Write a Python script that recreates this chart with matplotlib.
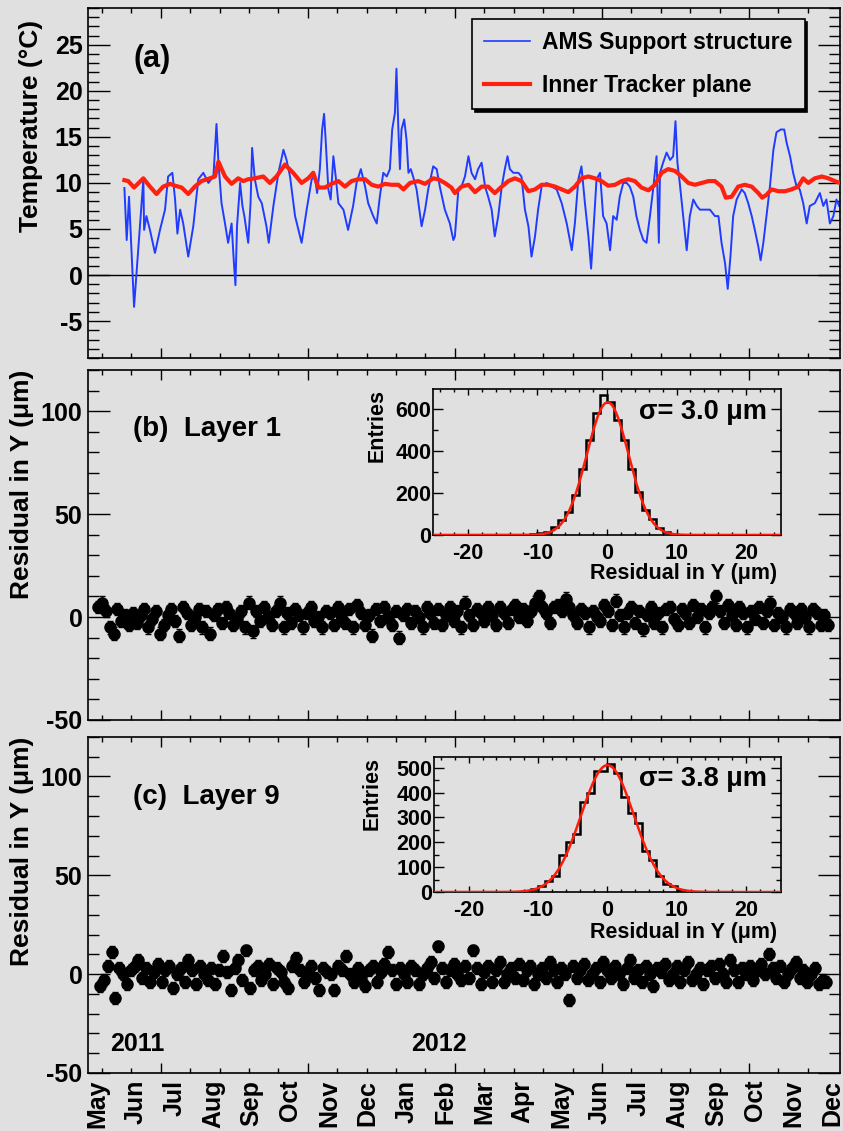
import numpy as np
import matplotlib.pyplot as plt
from matplotlib.ticker import MultipleLocator, FixedLocator, NullFormatter

plt.rcParams['font.family'] = ['Liberation Sans', 'DejaVu Sans']
plt.rcParams['font.weight'] = 'bold'
plt.rcParams['axes.labelweight'] = 'bold'
plt.rcParams['axes.unicode_minus'] = False

BG = '#e0e0e0'

# time axis in months since 1 May 2011
month_labels = ['May', 'Jun', 'Jul', 'Aug', 'Sep', 'Oct', 'Nov', 'Dec', 'Jan', 'Feb',
                'Mar', 'Apr', 'May', 'Jun', 'Jul', 'Aug', 'Sep', 'Oct', 'Nov', 'Dec']

# (a) AMS support structure temperature (deg C)
support_t = [0.71, 0.77, 0.83, 0.96, 1.20, 1.22, 1.28, 1.37, 1.50, 1.63, 1.76, 1.84, 1.95, 2.02,
             2.08, 2.15, 2.23, 2.36, 2.49, 2.62, 2.75, 2.88, 3.01, 3.09, 3.14, 3.22, 3.31, 3.39,
             3.48, 3.54, 3.58, 3.62, 3.70, 3.76, 3.81, 3.91, 3.97, 4.01, 4.08, 4.17, 4.26, 4.38,
             4.44, 4.56, 4.69, 4.82, 4.90, 4.99, 5.12, 5.29, 5.42, 5.55, 5.63, 5.69, 5.76, 5.82,
             5.87, 5.91, 5.98, 6.04, 6.11, 6.17, 6.24, 6.37, 6.49, 6.62, 6.71, 6.82, 6.93, 7.01,
             7.14, 7.23, 7.31, 7.40, 7.49, 7.57, 7.63, 7.70, 7.74, 7.79, 7.83, 7.87, 7.94, 8.00,
             8.05, 8.11, 8.17, 8.26, 8.39, 8.48, 8.56, 8.69, 8.78, 8.86, 8.99, 9.12, 9.21, 9.25,
             9.34, 9.42, 9.51, 9.60, 9.68, 9.77, 9.85, 9.94, 10.03, 10.11, 10.20, 10.28, 10.37,
             10.46, 10.54, 10.61, 10.67, 10.76, 10.89, 10.97, 11.06, 11.15, 11.23, 11.32, 11.40,
             11.49, 11.62, 11.75, 11.88, 12.01, 12.14, 12.27, 12.35, 12.44, 12.52, 12.61, 12.70,
             12.77, 12.83, 12.91, 13.00, 13.08, 13.17, 13.26, 13.34, 13.43, 13.51, 13.60, 13.69,
             13.77, 13.86, 13.94, 14.03, 14.12, 14.20, 14.29, 14.38, 14.46, 14.52, 14.55, 14.63,
             14.72, 14.81, 14.89, 14.95, 15.00, 15.06, 15.15, 15.24, 15.32, 15.41, 15.50, 15.58,
             15.71, 15.84, 15.97, 16.06, 16.14, 16.23, 16.30, 16.37, 16.44, 16.53, 16.66, 16.74,
             16.83, 16.92, 17.00, 17.09, 17.15, 17.22, 17.30, 17.39, 17.48, 17.56, 17.67, 17.76,
             17.82, 17.91, 17.99, 18.08, 18.16, 18.25, 18.34, 18.42, 18.55, 18.68, 18.77, 18.85,
             18.94, 19.03, 19.11, 19.18]
support_temp = [9.45, 3.8, 8.5, -3.45, 10.4, 4.9, 6.4, 4.9, 2.4, 4.9, 7.1, 10.7, 11.1, 8.2,
                4.5, 7.1, 5.6, 2.0, 5.3, 10.4, 11.1, 10.0, 10.7, 16.4, 12.2, 7.8, 5.6, 3.5,
                5.6, 1.3, -1.1, 5.3, 10.0, 7.5, 6.4, 3.5, 7.8, 13.8, 10.4, 8.5, 7.8, 5.3,
                3.5, 7.5, 11.1, 13.6, 12.5, 10.7, 6.4, 3.5, 7.1, 10.4, 10.7, 8.9, 11.5, 15.8,
                17.5, 14.7, 9.3, 8.2, 12.9, 10.7, 7.8, 7.1, 4.9, 7.5, 10.0, 11.5, 9.6, 7.8,
                6.4, 5.6, 8.5, 11.1, 10.7, 11.5, 15.8, 17.6, 22.4, 15.8, 11.5, 15.8, 16.9, 14.7,
                11.1, 11.5, 10.7, 9.3, 5.3, 7.1, 9.3, 11.8, 11.5, 9.6, 7.1, 5.6, 3.8, 4.2,
                9.3, 9.6, 10.7, 12.9, 11.1, 10.4, 11.5, 12.2, 9.6, 8.5, 7.1, 4.2, 6.4,
                9.6, 11.5, 12.9, 11.5, 11.1, 11.1, 10.7, 7.1, 5.3, 2.0, 4.2, 7.1,
                9.6, 10.0, 9.6, 9.3, 7.8, 5.6, 2.7, 5.6, 10.4, 11.8, 7.8, 4.2,
                0.7, 4.9, 10.4, 11.1, 6.4, 5.6, 2.7, 6.4, 6.0, 8.5, 10.0, 10.0,
                9.6, 8.5, 6.4, 4.9, 3.8, 3.5, 6.4, 9.6, 12.9, 3.5, 11.1, 12.2,
                13.3, 12.5, 12.9, 16.7, 12.2, 10.0, 6.4, 2.7, 6.4, 8.2, 7.5, 7.1,
                7.1, 7.1, 6.4, 6.4, 3.5, 1.3, -1.5, 2.0, 6.4, 8.2, 9.3, 8.9,
                7.8, 6.4, 4.9, 3.1, 1.6, 3.5, 6.4, 9.6, 13.6, 15.5, 15.8, 15.8,
                14.4, 12.9, 11.1, 9.6, 9.3, 7.8, 5.6, 7.5, 7.8, 8.9, 7.5, 8.2,
                5.6, 6.4, 8.2, 7.5]

# (a) inner tracker plane temperature (deg C)
tracker_t = [0.71, 0.81, 0.96, 1.20, 1.37, 1.54, 1.71, 1.89, 2.02, 2.19, 2.36, 2.53, 2.70, 2.92,
             3.05, 3.14, 3.31, 3.48, 3.65, 3.78, 3.91, 4.08, 4.30, 4.47, 4.64, 4.86, 5.07, 5.29,
             5.46, 5.59, 5.72, 5.89, 6.06, 6.24, 6.41, 6.58, 6.75, 6.93, 7.10, 7.27, 7.44, 7.61,
             7.79, 7.92, 8.09, 8.30, 8.48, 8.69, 8.82, 8.99, 9.16, 9.25, 9.42, 9.60, 9.77, 9.94,
             10.11, 10.28, 10.46, 10.63, 10.80, 10.97, 11.15, 11.32, 11.49, 11.66, 11.84, 12.01,
             12.18, 12.35, 12.52, 12.70, 12.87, 13.04, 13.21, 13.39, 13.56, 13.73, 13.90, 14.07,
             14.25, 14.42, 14.59, 14.76, 14.94, 15.11, 15.28, 15.45, 15.63, 15.80, 15.97, 16.14,
             16.25, 16.40, 16.57, 16.74, 16.92, 17.09, 17.19, 17.30, 17.43, 17.61, 17.78, 17.95,
             18.12, 18.25, 18.38, 18.55, 18.73, 18.90, 19.07, 19.20]
tracker_temp = [10.3, 10.2, 9.5, 10.5, 9.6, 8.8, 9.6, 9.9, 9.7, 9.5, 8.8, 9.6, 10.2, 10.5,
                10.7, 12.3, 10.7, 9.9, 10.5, 10.2, 10.4, 10.5, 10.7, 10.0, 10.7, 12.0, 11.1, 10.0,
                10.5, 11.1, 9.5, 9.5, 9.9, 10.2, 9.6, 10.2, 10.4, 10.4, 9.8, 9.6, 9.9, 9.8,
                9.8, 9.3, 10.0, 10.2, 9.9, 10.5, 10.4, 10.0, 9.5, 8.9, 9.6, 9.8, 9.0, 9.6,
                9.6, 8.9, 9.6, 10.2, 10.5, 10.2, 9.1, 9.3, 9.8, 9.8, 9.6, 9.3,
                9.0, 9.6, 10.5, 10.7, 10.5, 10.2, 9.7, 9.8, 10.2, 10.4, 10.2, 9.5,
                9.2, 9.8, 11.1, 11.5, 11.3, 10.7, 10.0, 9.8, 10.0, 10.2, 10.2, 9.6,
                8.4, 8.5, 9.6, 9.8, 9.6, 8.9, 8.4, 8.7, 9.3, 9.1, 9.1, 9.3,
                9.6, 10.5, 10.0, 10.5, 10.7, 10.5, 10.2, 10.0]

# (b) Layer 1 residuals (um), one value per time bin
l1_start, l1_end = 0.03, 18.9
l1_res = [5, 7, 3, -5, -8, 4, -2, 1, -4, 2,
          -3, 1, 4, -5, -1, 3, -8, -4, 1, 4,
          -2, -9, 5, 2, -4, 0, 4, -5, 3, -8,
          1, 4, -3, 5, 2, -4, -1, 3, -5, 7,
          -7, 3, -2, 5, 0, -4, 3, 7, -5, 2,
          -3, 4, 1, -5, 2, 5, -2, 0, -5, 3,
          2, -4, 5, 1, -3, 4, -5, 6, 2, -4,
          1, -9, 4, -2, 5, 0, -4, 3, -10, 1,
          4, -3, 3, 0, -5, 5, 2, -3, 4, -4,
          1, 5, -2, 3, -5, 7, 1, -4, 4, 2,
          -2, 5, 1, -4, 5, 2, -3, 4, 6, 0,
          4, -2, 3, 7, 10, 5, 2, -3, 5, 6,
          3, 9, 5, 1, -3, 4, 2, -5, 3, 0,
          -2, 6, 3, -4, 8, 1, -5, 2, 5, -3,
          3, -6, 1, 5, -3, 2, -5, 4, 5, -1,
          -4, 4, 2, -3, 6, 0, 4, -5, 2, 5,
          10, 3, -3, 6, 1, -4, 5, 2, -5, 3,
          -1, 5, -3, 3, 7, -4, 2, 0, -5, 4,
          2, -3, 4, 0, -5, 4, 2, -4, 1, -4]

# (c) Layer 9 residuals (um)
l9_start, l9_end = 0.08, 18.85
l9_res = [-6, -3, 4, 11, -12, 3, 0, -5, 2, 4,
          7, -2, 3, -4, 1, 5, -4, 2, 4, -7,
          0, 3, -4, 7, 2, -5, 4, 0, -3, 3,
          -5, 2, 9, 1, -8, 3, 7, -3, 12, -7,
          2, 4, -3, 0, 5, -5, 3, 1, -4, -7,
          4, 8, 2, -4, 0, 4, -2, -8, 3, 1,
          0, -8, 4, 2, 9, 0, -4, 3, -2, -6,
          2, 4, -4, 1, 5, 11, 2, -5, 3, 0,
          -4, 4, 2, -5, 0, 3, 6, -2, 14, 3,
          -4, 2, 5, 0, -3, 4, -2, 12, 3, -5,
          1, 4, -4, 2, 6, -4, 0, 3, -2, 5,
          -3, 2, 4, -5, 0, 3, -2, 6, 2, -4,
          3, 0, -13, 4, -2, 2, 5, -3, 0, 3,
          -4, 6, 2, -2, 4, 0, -5, 3, 7, -2,
          2, -4, 4, 0, -6, 3, 1, 5, -3, 0,
          4, -4, 2, 6, -3, 0, 3, -5, 2, 4,
          -2, 5, 0, -4, 7, 2, -4, 3, 0, 4,
          -3, 2, 5, 0, 10, 3, -2, 4, -4, 0,
          3, 6, -2, 2, -4, 0, 3, -5, -3, -4]
res_err = 3.0

# residual histograms, 1 um bins from -25 to 25
hist_edges = np.arange(-25, 26, 1)
l1_counts = [0, 0, 0, 0, 0, 0, 0, 0, 0, 0, 0, 0, 0, 1, 3, 7, 15, 38, 70, 110,
             190, 313, 452, 579, 663, 630, 544, 452, 313, 202, 120, 75, 35, 15, 6, 2, 1, 0, 0, 0,
             0, 0, 0, 0, 0, 0, 0, 0, 0, 0]
l9_counts = [0, 0, 0, 0, 0, 0, 0, 0, 0, 0, 0, 0, 2, 5, 12, 23, 43, 63, 149, 200,
             233, 363, 400, 487, 487, 516, 480, 383, 316, 279, 163, 127, 63, 33, 23, 10, 5, 2, 1, 0,
             0, 0, 0, 0, 0, 0, 0, 0, 0, 0]
# gaussian fit parameters: amplitude, mean, sigma
l1_fit = (630, 0.1, 3.0)
l9_fit = (510, 0.0, 3.8)

x_minor = [0.13 + 0.76 * k for k in range(25)]
x_major = [1.65 + 3.8 * k for k in range(5)]
XLIM = (-0.23, 19.2)


def root_axes(ax, ymaj, ymin):
    ax.set_facecolor(BG)
    ax.set_xlim(*XLIM)
    ax.xaxis.set_major_locator(FixedLocator(x_major))
    ax.xaxis.set_minor_locator(FixedLocator(x_minor))
    ax.xaxis.set_major_formatter(NullFormatter())
    ax.yaxis.set_major_locator(MultipleLocator(ymaj))
    ax.yaxis.set_minor_locator(MultipleLocator(ymin))
    ax.tick_params(which='both', direction='in', top=True, right=True, width=1, labelsize=18, pad=4)
    ax.tick_params(axis='x', which='major', length=7.5)
    ax.tick_params(axis='x', which='minor', length=3.6)
    ax.tick_params(axis='y', which='major', length=16)
    ax.tick_params(axis='y', which='minor', length=8)
    for s in ax.spines.values():
        s.set_linewidth(1.2)


def inset_hist(ax, counts, fit, ymax, yminor, sigma_txt):
    ax.set_facecolor(BG)
    ax.stairs(counts, hist_edges, color='black', lw=1.8, zorder=2)
    xf = np.linspace(-25, 25, 600)
    a, m, s = fit
    ax.plot(xf, a * np.exp(-0.5 * ((xf - m) / s) ** 2), color='#ff1a0a', lw=1.8, zorder=3)
    ax.set_xlim(-25, 25)
    ax.set_ylim(0, ymax)
    ax.xaxis.set_major_locator(MultipleLocator(10))
    ax.xaxis.set_minor_locator(MultipleLocator(2))
    ax.yaxis.set_major_locator(MultipleLocator(200 if ymax > 600 else 100))
    ax.yaxis.set_minor_locator(MultipleLocator(yminor))
    ax.tick_params(which='both', direction='in', top=True, right=True, width=1, labelsize=15.5)
    ax.tick_params(axis='x', which='major', length=4, pad=6)
    ax.tick_params(axis='x', which='minor', length=2)
    ax.tick_params(axis='y', which='major', length=7, pad=1)
    ax.tick_params(axis='y', which='minor', length=3.5)
    ax.set_xlabel('Residual in Y (\u03bcm)', fontsize=15.5, loc='right')
    ax.set_ylabel('Entries', fontsize=15.5, loc='top')
    ax.text(0.96, 0.84, sigma_txt, transform=ax.transAxes, ha='right', va='center',
            fontsize=19.5, fontweight='bold')
    for sp in ax.spines.values():
        sp.set_linewidth(1.2)


fig = plt.figure(figsize=(8.43, 11.31), dpi=100, facecolor=BG)

# ---- panel (a)
ax1 = fig.add_axes([0.1044, 0.6835, 0.892, 0.3095])
root_axes(ax1, 5, 1)
ax1.set_ylim(-9, 29)
ax1.axhline(0, color='black', lw=1.0, zorder=1)
ax1.plot(support_t, support_temp, color='#1f3cff', lw=1.4, label='AMS Support structure', zorder=2)
ax1.plot(tracker_t, tracker_temp, color='#ff2010', lw=3.0, label='Inner Tracker plane', zorder=3)
ax1.set_ylabel('Temperature (\u00b0C)', fontsize=19, loc='top')
ax1.yaxis.set_label_coords(-0.06, 0.966)
ax1.text(0.085, 0.855, '(a)', transform=ax1.transAxes, fontsize=22, fontweight='bold',
         ha='center', va='center')
leg = ax1.legend(loc='upper right', bbox_to_anchor=(0.953, 0.969), borderaxespad=0,
                 fontsize=16.5, frameon=True, fancybox=False, edgecolor='black',
                 facecolor=BG, framealpha=1, handlelength=2.0, handletextpad=0.5,
                 labelspacing=0.85, borderpad=0.55,
                 shadow={'facecolor': 'black', 'edgecolor': 'black', 'alpha': 1})
leg.get_frame().set_linewidth(1.2)
leg.get_lines()[0].set_linewidth(1.2)

# ---- panel (b)
ax2 = fig.add_axes([0.1044, 0.3634, 0.892, 0.3095])
root_axes(ax2, 50, 10)
ax2.set_ylim(-50, 120)
x1 = np.linspace(l1_start, l1_end, len(l1_res))
ax2.errorbar(x1, l1_res, yerr=res_err, fmt='o', color='black', ms=8, capsize=2,
             elinewidth=1, capthick=1)
ax2.set_ylabel('Residual in Y (\u03bcm)', fontsize=19, loc='top')
ax2.yaxis.set_label_coords(-0.072, 1.0)
ax2.text(0.06, 0.83, '(b)  Layer 1', transform=ax2.transAxes, fontsize=20, fontweight='bold',
         ha='left', va='center')

ins1 = fig.add_axes([0.5136, 0.527, 0.4128, 0.129])
inset_hist(ins1, l1_counts, l1_fit, 693, 100, '\u03c3= 3.0 \u03bcm')
ins1.yaxis.set_label_coords(-0.13, 1.0)
ins1.xaxis.set_label_coords(0.99, -0.19)

# ---- panel (c)
ax3 = fig.add_axes([0.1044, 0.0513, 0.892, 0.2971])
root_axes(ax3, 50, 10)
ax3.set_ylim(-50, 120)
x9 = np.linspace(l9_start, l9_end, len(l9_res))
ax3.errorbar(x9, l9_res, yerr=res_err, fmt='o', color='black', ms=8, capsize=2,
             elinewidth=1, capthick=1)
ax3.set_ylabel('Residual in Y (\u03bcm)', fontsize=19, loc='top')
ax3.yaxis.set_label_coords(-0.072, 1.0)
ax3.text(0.06, 0.82, '(c)  Layer 9', transform=ax3.transAxes, fontsize=20, fontweight='bold',
         ha='left', va='center')
ax3.text(1.05, 0.085, '2011', transform=ax3.get_xaxis_transform(), fontsize=18,
         fontweight='bold', ha='center', va='center')
ax3.text(8.85, 0.085, '2012', transform=ax3.get_xaxis_transform(), fontsize=18,
         fontweight='bold', ha='center', va='center')
for i, lab in enumerate(month_labels):
    ax3.text(i, -0.02, lab, transform=ax3.get_xaxis_transform(), rotation=90,
             ha='center', va='top', fontsize=18, fontweight='bold')

ins2 = fig.add_axes([0.5148, 0.2113, 0.4116, 0.1194])
inset_hist(ins2, l9_counts, l9_fit, 543, 50, '\u03c3= 3.8 \u03bcm')
ins2.yaxis.set_label_coords(-0.147, 1.0)
ins2.xaxis.set_label_coords(0.99, -0.22)

fig.savefig('out.png', dpi=100, facecolor=BG)
